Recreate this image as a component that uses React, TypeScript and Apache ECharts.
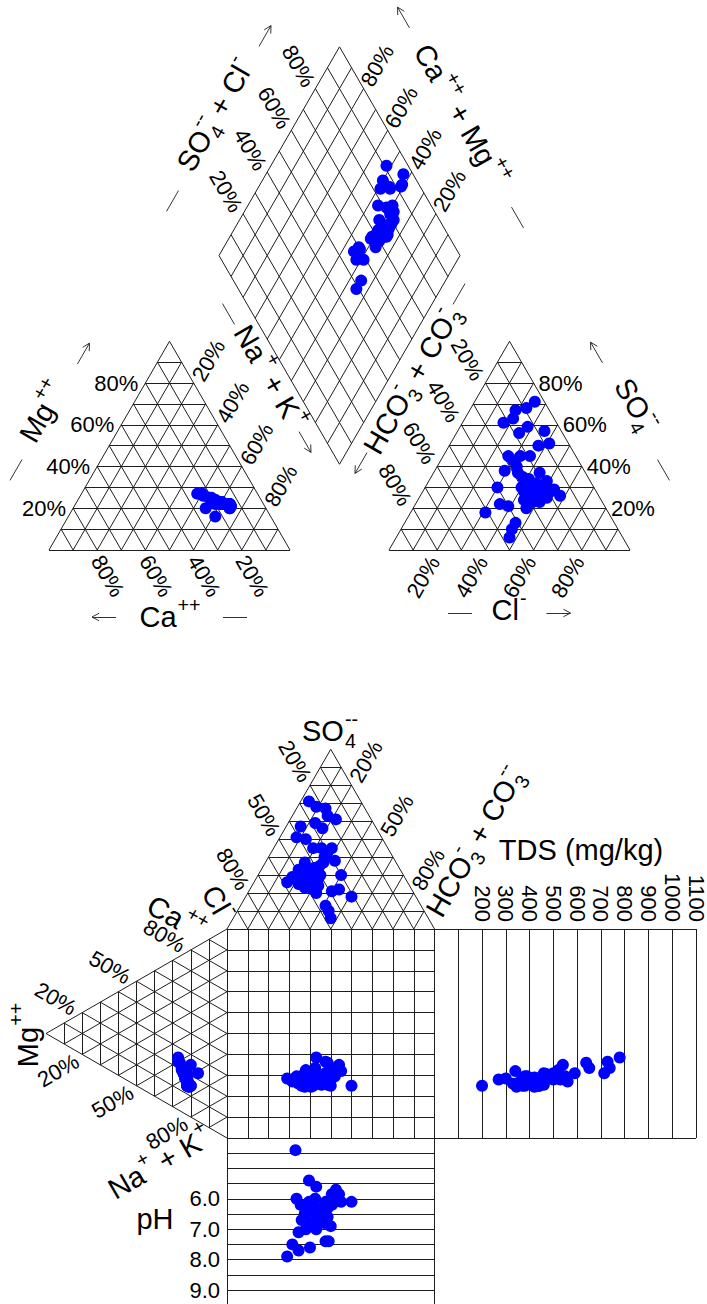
import React, { useEffect, useRef } from 'react';
import * as echarts from 'echarts';

const W = 707;
const H = 1304;

// ---------------- data (percent of meq, one entry per sample) ----------------
const calciumPct = [19, 25, 23, 23, 21, 21, 16, 18, 20, 18, 17, 15, 14, 18, 18, 19, 17, 20, 15, 14, 14, 16, 17, 18, 16, 25, 19, 15, 15, 23, 20, 15, 15, 14, 17, 15, 14, 19, 17, 16, 15, 14, 15, 15, 17, 17];
const magnesiumPct = [24, 27, 27, 26, 25, 25, 22, 23, 25, 23, 23, 21, 22, 23, 22, 23, 22, 24, 22, 21, 22, 22, 23, 23, 22, 20, 24, 20, 22, 16, 22, 20, 22, 22, 22, 22, 21, 23, 23, 22, 21, 22, 22, 21, 22, 22];
const sodiumPotassiumPct = [57, 48, 50, 51, 54, 54, 62, 59, 55, 59, 60, 64, 64, 59, 60, 58, 61, 56, 63, 65, 64, 62, 60, 59, 62, 55, 57, 65, 63, 61, 58, 65, 63, 64, 61, 63, 65, 58, 60, 62, 64, 64, 63, 64, 61, 61];
const sulfatePct = [71, 68, 67, 63, 61, 59, 56, 57, 50, 51, 45, 45, 45, 38, 37, 37, 33, 30, 30, 31, 27, 29, 26, 24, 23, 22, 21, 18, 20, 13, 10, 6, 32, 30, 27, 25, 23, 34, 28, 26, 29, 24, 40, 43, 35, 28];
const chloridePct = [25, 23, 19, 20, 17, 28, 26, 36, 37, 41, 27, 32, 36, 29, 35, 44, 49, 30, 40, 44, 49, 54, 58, 44, 48, 35, 39, 31, 47, 46, 46, 47, 45, 49, 45, 53, 51, 41, 42, 47, 46, 50, 33, 30, 38, 53];
const bicarbonatePct = [4, 9, 14, 17, 22, 13, 18, 7, 13, 8, 28, 23, 19, 33, 28, 19, 18, 40, 30, 25, 24, 17, 16, 32, 29, 43, 40, 51, 33, 41, 44, 47, 23, 21, 28, 22, 26, 25, 30, 27, 25, 26, 27, 27, 27, 19];
const tdsMgKg = [714, 779, 728, 638, 651, 737, 560, 550, 520, 480, 430, 410, 380, 390, 420, 470, 500, 340, 400, 420, 440, 360, 300, 380, 450, 540, 460, 370, 330, 500, 590, 200, 350, 430, 390, 410, 345, 470, 520, 395, 360, 440, 380, 460, 270, 530];
const phValues = [5.4, 5.6, 6.1, 6.3, 5.7, 6.0, 6.4, 6.2, 6.6, 6.0, 5.85, 6.5, 6.8, 6.1, 6.3, 6.7, 7.1, 6.1, 6.4, 6.9, 6.5, 7.5, 7.9, 6.6, 6.8, 5.85, 6.2, 6.1, 7.0, 7.4, 7.4, 6.9, 6.3, 6.7, 6.4, 7.7, 6.5, 6.2, 6.6, 7.6, 6.1, 7.0, 6.8, 6.6, 6.4, 4.4];

// tick labels
const piperTicks = [20, 40, 60, 80];
const durovTicks = [20, 50, 80];
const tdsTicks = [200, 300, 400, 500, 600, 700, 800, 900, 1000, 1100];
const phTicks = [6, 7, 8, 9];

// ---------------- layout ----------------
const FONT = '"Liberation Sans", Arial, Helvetica, sans-serif';
const TICK = 22;
const TITLE = 29;
const LINE = '#1e1e1e';
const S3 = Math.sqrt(3) / 2;

const P = { baseY: 550, catX: 49, anX: 389, side: 241 };
const PH = P.side * S3;
const dB: [number, number] = [(P.catX + P.side + P.anX) / 2, P.baseY - (P.anX - P.catX - P.side) * S3];
const dL: [number, number] = [dB[0] - P.side / 2, dB[1] - PH];
const dR: [number, number] = [dB[0] + P.side / 2, dB[1] - PH];
const dT: [number, number] = [dB[0], dB[1] - 2 * PH];

const SQ = { x: 227, y: 929, w: 207.5, h: 209 };
const TDS_MAX = 1100;
const TDS_W = 261.5;
const PH_MIN = 4;
const PH_MAX = 10;
const PH_STEP_PX = 30.4;

type Pt = [number, number];
const add = (a: Pt, b: Pt, t = 1): Pt => [a[0] + (b[0] - a[0]) * t, a[1] + (b[1] - a[1]) * t];

// Piper vertices
const cA: Pt = [P.catX, P.baseY]; // Ca
const cB: Pt = [P.catX + P.side, P.baseY]; // Na+K
const cC: Pt = [P.catX + P.side / 2, P.baseY - PH]; // Mg
const aA: Pt = [P.anX, P.baseY]; // HCO3
const aB: Pt = [P.anX + P.side, P.baseY]; // Cl
const aC: Pt = [P.anX + P.side / 2, P.baseY - PH]; // SO4

// Durov vertices
const tA: Pt = [SQ.x, SQ.y]; // Cl
const tB: Pt = [SQ.x + SQ.w, SQ.y]; // HCO3
const tC: Pt = [SQ.x + SQ.w / 2, SQ.y - SQ.w * S3]; // SO4
const lA: Pt = [SQ.x, SQ.y]; // Ca
const lB: Pt = [SQ.x, SQ.y + SQ.h]; // Na+K
const lC: Pt = [SQ.x - SQ.h * S3, SQ.y + SQ.h / 2]; // Mg

const tdsX = (v: number) => SQ.x + SQ.w + (v / TDS_MAX) * TDS_W;
const phY = (v: number) => SQ.y + SQ.h + (v - PH_MIN) * PH_STEP_PX;

// ---------------- geometry helpers ----------------
function triGrid(A: Pt, B: Pt, C: Pt, n = 10): Pt[][] {
  const s: Pt[][] = [[A, B], [B, C], [C, A]];
  for (let i = 1; i < n; i++) {
    const t = i / n;
    s.push([add(A, B, t), add(A, C, t)]);
    s.push([add(B, C, t), add(B, A, t)]);
    s.push([add(C, A, t), add(C, B, t)]);
  }
  return s;
}

function diamondGrid(): Pt[][] {
  const s: Pt[][] = [];
  const vL: Pt = [dL[0] - dB[0], dL[1] - dB[1]];
  const vR: Pt = [dR[0] - dB[0], dR[1] - dB[1]];
  for (let i = 0; i <= 10; i++) {
    const t = i / 10;
    const p1: Pt = [dB[0] + vL[0] * t, dB[1] + vL[1] * t];
    s.push([p1, [p1[0] + vR[0], p1[1] + vR[1]]]);
    const p2: Pt = [dB[0] + vR[0] * t, dB[1] + vR[1] * t];
    s.push([p2, [p2[0] + vL[0], p2[1] + vL[1]]]);
  }
  return s;
}

function arrow(from: Pt, to: Pt, head = 8): Pt[][] {
  const dx = to[0] - from[0];
  const dy = to[1] - from[1];
  const len = Math.hypot(dx, dy);
  const ux = dx / len;
  const uy = dy / len;
  const a = (28 * Math.PI) / 180;
  const h1: Pt = [to[0] - head * (ux * Math.cos(a) - uy * Math.sin(a)), to[1] - head * (uy * Math.cos(a) + ux * Math.sin(a))];
  const h2: Pt = [to[0] - head * (ux * Math.cos(a) + uy * Math.sin(a)), to[1] - head * (uy * Math.cos(a) - ux * Math.sin(a))];
  return [[from, to], [to, h1], [to, h2]];
}

function dashAt(c: Pt, deg: number, len = 24): Pt[][] {
  const r = (deg * Math.PI) / 180;
  const dx = (Math.cos(r) * len) / 2;
  const dy = (-Math.sin(r) * len) / 2;
  return [[[c[0] - dx, c[1] - dy], [c[0] + dx, c[1] + dy]]];
}

function arrowAt(c: Pt, deg: number, len = 24): Pt[][] {
  const r = (deg * Math.PI) / 180;
  const dx = (Math.cos(r) * len) / 2;
  const dy = (-Math.sin(r) * len) / 2;
  return arrow([c[0] - dx, c[1] - dy], [c[0] + dx, c[1] + dy]);
}

// ---------------- text helpers ----------------
let measureCtx: CanvasRenderingContext2D | null = null;
function textWidth(t: string, size: number): number {
  if (!measureCtx) measureCtx = document.createElement('canvas').getContext('2d');
  if (!measureCtx) return t.length * size * 0.55;
  measureCtx.font = `${size}px ${FONT}`;
  return measureCtx.measureText(t).width;
}

function tstyle(text: string, size: number, align = 'center', valign = 'middle') {
  return {
    text,
    fill: '#000',
    fontSize: size,
    fontFamily: FONT,
    align,
    verticalAlign: valign,
    textAlign: align,
    textVerticalAlign: valign,
  };
}

function label(text: string, x: number, y: number, rotDeg = 0, align = 'center', size = TICK) {
  return { type: 'text', x, y, rotation: (rotDeg * Math.PI) / 180, silent: true, style: tstyle(text, size, align, 'middle') };
}

type Part = { t: string; sup?: string; sub?: string };
function title(parts: Part[], cx: number, cy: number, rotDeg: number, size = TITLE) {
  const ss = size * 0.68;
  let x = 0;
  const kids: any[] = [];
  for (const p of parts) {
    if (p.t) {
      kids.push({ type: 'text', x, y: 0, silent: true, style: tstyle(p.t, size, 'left') });
      x += textWidth(p.t, size);
    }
    let w = 0;
    if (p.sup) {
      kids.push({ type: 'text', x: x + 1, y: -size * 0.42, silent: true, style: tstyle(p.sup, ss, 'left') });
      w = Math.max(w, textWidth(p.sup, ss) + 1);
    }
    if (p.sub) {
      kids.push({ type: 'text', x: x + 1, y: size * 0.36, silent: true, style: tstyle(p.sub, ss, 'left') });
      w = Math.max(w, textWidth(p.sub, ss) + 1);
    }
    x += w;
  }
  kids.forEach((k) => (k.x -= x / 2));
  return { type: 'group', x: cx, y: cy, rotation: (rotDeg * Math.PI) / 180, silent: true, children: kids };
}

// ---------------- option ----------------
function buildOption() {
  const n = calciumPct.length;
  const pts: Pt[] = [];
  for (let i = 0; i < n; i++) {
    const cs = calciumPct[i] + magnesiumPct[i] + sodiumPotassiumPct[i];
    const as = sulfatePct[i] + chloridePct[i] + bicarbonatePct[i];
    const mg = magnesiumPct[i] / cs;
    const nak = sodiumPotassiumPct[i] / cs;
    const ca = calciumPct[i] / cs;
    const so4 = sulfatePct[i] / as;
    const cl = chloridePct[i] / as;
    const hco3 = bicarbonatePct[i] / as;
    // Piper cation triangle
    pts.push([P.catX + P.side * (nak + mg / 2), P.baseY - PH * mg]);
    // Piper anion triangle
    pts.push([P.anX + P.side * (cl + so4 / 2), P.baseY - PH * so4]);
    // Piper diamond
    const a = ca + mg;
    const s = so4 + cl;
    pts.push([dB[0] + (P.side / 2) * (s - a), dB[1] - PH * (a + s)]);
    // Durov
    const ax = SQ.x + SQ.w * (hco3 + so4 / 2);
    const cy = SQ.y + SQ.h * (nak + mg / 2);
    pts.push([ax, SQ.y - SQ.w * S3 * so4]);
    pts.push([SQ.x - SQ.h * S3 * mg, cy]);
    pts.push([ax, cy]);
    pts.push([tdsX(tdsMgKg[i]), cy]);
    pts.push([ax, phY(phValues[i])]);
  }

  // grid segments
  const segs: Pt[][] = [];
  segs.push(...triGrid(cA, cB, cC));
  segs.push(...triGrid(aA, aB, aC));
  segs.push(...diamondGrid());
  segs.push(...triGrid(tA, tB, tC));
  segs.push(...triGrid(lA, lB, lC));
  for (let i = 0; i <= 10; i++) {
    const x = SQ.x + (SQ.w * i) / 10;
    const y = SQ.y + (SQ.h * i) / 10;
    segs.push([[x, SQ.y], [x, SQ.y + SQ.h]]);
    segs.push([[SQ.x, y], [SQ.x + SQ.w, y]]);
  }
  for (let v = 100; v <= TDS_MAX; v += 100) segs.push([[tdsX(v), SQ.y], [tdsX(v), SQ.y + SQ.h]]);
  segs.push([[SQ.x + SQ.w, SQ.y], [tdsX(TDS_MAX), SQ.y]]);
  segs.push([[SQ.x + SQ.w, SQ.y + SQ.h], [tdsX(TDS_MAX), SQ.y + SQ.h]]);
  for (let v = PH_MIN + 0.5; v <= PH_MAX; v += 0.5) segs.push([[SQ.x, phY(v)], [SQ.x + SQ.w, phY(v)]]);
  segs.push([[SQ.x, SQ.y + SQ.h], [SQ.x, phY(PH_MAX)]]);
  segs.push([[SQ.x + SQ.w, SQ.y + SQ.h], [SQ.x + SQ.w, phY(PH_MAX)]]);

  // axis arrows and dashes
  const deco: Pt[][] = [];
  deco.push(...dashAt([16, 470], 60), ...arrowAt([83.5, 353.5], 60)); // Mg
  deco.push(...arrowAt([104, 617], 180), ...dashAt([235, 617], 0)); // Ca
  deco.push(...dashAt([228.5, 314], -60), ...arrowAt([305, 442], -60)); // Na+K
  deco.push(...arrowAt([596.5, 352.5], 120), ...dashAt([663.5, 470], -60)); // SO4
  deco.push(...dashAt([460, 613], 0), ...arrowAt([558.5, 613], 0)); // Cl
  deco.push(...dashAt([459, 294], 60), ...arrowAt([361, 463], 240)); // HCO3
  deco.push(...arrowAt([265, 36], 60), ...dashAt([172.5, 201], 60)); // SO4+Cl
  deco.push(...arrowAt([403.5, 17.5], 120), ...dashAt([517.5, 217.5], -60)); // Ca+Mg

  // texts
  const g: any[] = [];
  for (const k of piperTicks) {
    const t = k / 100;
    g.push(label(`${k}%`, P.catX + (P.side / 2) * t - 7, P.baseY - PH * t, 0, 'right'));
    g.push(label(`${k}%`, P.catX + P.side * (1 - t) + 10.5, P.baseY + 26, -60));
    const e1 = add(cC, cB, t);
    g.push(label(`${k}%`, e1[0] + 15, e1[1] - 22.5, 60));
    g.push(label(`${k}%`, P.anX + P.side - (P.side / 2) * t + 5, P.baseY - PH * t, 0, 'left'));
    const e2 = add(aC, aA, t);
    g.push(label(`${k}%`, e2[0] - 18, e2[1] - 23.5, -60));
    g.push(label(`${k}%`, P.anX + P.side * t - 14, P.baseY + 27, 60));
    const e3 = add(dL, dT, t);
    g.push(label(`${k}%`, e3[0] - 17, e3[1] - 22.5, -60));
    const e4 = add(dR, dT, t);
    g.push(label(`${k}%`, e4[0] + 13.6, e4[1] - 23, 60));
  }
  for (const k of durovTicks) {
    const t = k / 100;
    const e1 = add(tC, tA, t);
    g.push(label(`${k}%`, e1[0] - 15, e1[1] - 24, -60));
    const e2 = add(tC, tB, t);
    g.push(label(`${k}%`, e2[0] + 14.5, e2[1] - 23.5, 60));
    const e3 = add(lC, lA, t);
    g.push(label(`${k}%`, e3[0] - 26.5, e3[1] - 13.8, -30));
    const e4 = add(lC, lB, t);
    g.push(label(`${k}%`, e4[0] - 24, e4[1] + 16, 30));
  }
  for (const v of tdsTicks) g.push(label(String(v), tdsX(v), SQ.y - 7, -90, 'right'));
  for (const v of phTicks) g.push(label(v.toFixed(1), SQ.x - 7, phY(v), 0, 'right'));

  // Piper titles
  g.push(title([{ t: 'Mg', sup: '++' }], 43, 412, 60));
  g.push(title([{ t: 'Ca', sup: '++' }], 170, 617, 0));
  g.push(title([{ t: 'Na', sup: '+' }, { t: ' + K', sup: '+' }], 270, 377, -60));
  g.push(title([{ t: 'SO', sub: '4', sup: '--' }], 636, 405, -60));
  g.push(title([{ t: 'Cl', sup: '-' }], 509, 610, 0));
  g.push(title([{ t: 'HCO', sub: '3', sup: '-' }, { t: ' + CO', sub: '3', sup: '-' }], 412, 380, 60));
  g.push(title([{ t: 'SO', sub: '4', sup: '--' }, { t: ' + Cl', sup: '-' }], 215, 115, 60));
  g.push(title([{ t: 'Ca', sup: '++' }, { t: ' + Mg', sup: '++' }], 461, 115, -60));
  // Durov titles
  g.push(title([{ t: 'SO', sub: '4', sup: '--' }], 330, 731, 0));
  g.push(title([{ t: 'Cl', sup: '-' }], 218, 903, -60));
  g.push(title([{ t: 'Ca', sup: '++' }], 176, 918, -30));
  g.push(title([{ t: 'HCO', sub: '3', sup: '-' }, { t: ' + CO', sub: '3', sup: '--' }], 475, 842, 60));
  g.push(title([{ t: 'Mg', sup: '++' }], 28, 1035, 90));
  g.push(title([{ t: 'Na', sup: '+' }, { t: ' + K', sup: '+' }], 160, 1163, 30));
  g.push(label('TDS (mg/kg)', 581, 850, 0, 'center', TITLE));
  g.push(label('pH', 155, 1219, 0, 'center', TITLE));

  return {
    animation: false,
    backgroundColor: '#ffffff',
    grid: { left: 0, right: 0, top: 0, bottom: 0, containLabel: false },
    xAxis: { type: 'value', min: 0, max: W, show: false },
    yAxis: { type: 'value', min: 0, max: H, inverse: true, show: false },
    series: [
      {
        type: 'lines',
        coordinateSystem: 'cartesian2d',
        silent: true,
        z: 2,
        lineStyle: { color: LINE, width: 1, opacity: 1 },
        data: segs.map((c) => ({ coords: c })),
      },
      {
        type: 'lines',
        coordinateSystem: 'cartesian2d',
        silent: true,
        z: 2,
        lineStyle: { color: '#333', width: 1, opacity: 1 },
        data: deco.map((c) => ({ coords: c })),
      },
      {
        type: 'scatter',
        coordinateSystem: 'cartesian2d',
        silent: true,
        z: 3,
        clip: false,
        symbol: 'circle',
        symbolSize: 12,
        itemStyle: { color: '#0000ff', opacity: 1 },
        data: pts,
      },
    ],
    graphic: { elements: g },
  };
}

export default function App() {
  const ref = useRef<HTMLDivElement>(null);
  useEffect(() => {
    document.body.style.margin = '0';
    if (!ref.current) return;
    const chart = echarts.init(ref.current, null, { renderer: 'svg', width: W, height: H });
    chart.setOption(buildOption() as any);
    return () => chart.dispose();
  }, []);
  return <div ref={ref} style={{ width: W, height: H, background: '#fff' }} />;
}
